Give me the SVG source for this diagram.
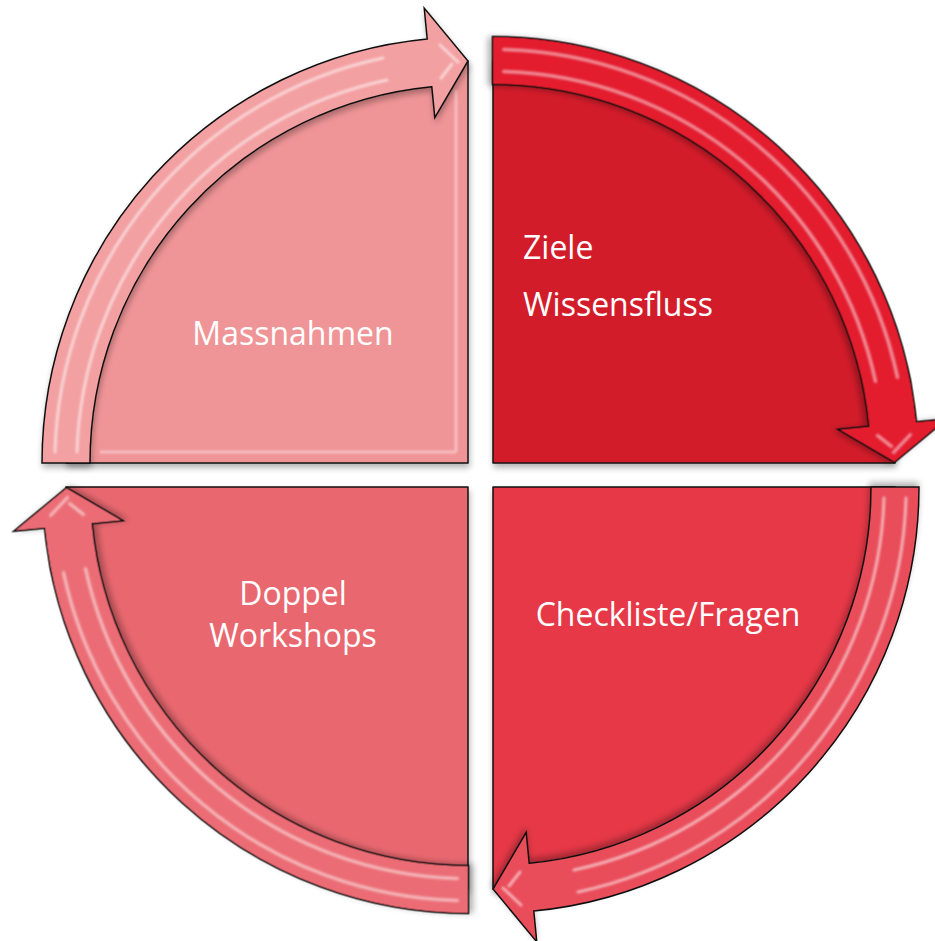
<svg xmlns="http://www.w3.org/2000/svg" xmlns:xlink="http://www.w3.org/1999/xlink" width="935" height="941" viewBox="0 0 935 941">
  <style>
    .pie { stroke: #111; stroke-width: 1.5; stroke-linejoin: round; }
    .arw { stroke: #111; stroke-width: 1.5; stroke-linejoin: miter; }
    .hl { fill: none; stroke: #ffffff; stroke-width: 3; stroke-opacity: 0.55; stroke-linecap: round; }
    .bev { fill: none; stroke: #ffffff; stroke-width: 2.5; stroke-opacity: 0.45; }
    .lbl { font-family: "Open Sans", "Noto Sans", "Liberation Sans", sans-serif; font-size: 32px; fill: #ffffff; }
  </style>
  <defs>
    <filter id="shadow" x="-10%" y="-10%" width="120%" height="120%">
      <feGaussianBlur in="SourceAlpha" stdDeviation="3"/>
      <feOffset dx="1" dy="4" result="b"/>
      <feComponentTransfer><feFuncA type="linear" slope="0.3"/></feComponentTransfer>
      <feMerge><feMergeNode/><feMergeNode in="SourceGraphic"/></feMerge>
    </filter>
    <filter id="soft" x="-5%" y="-5%" width="110%" height="110%">
      <feGaussianBlur stdDeviation="1"/>
    </filter>
    <g id="arrowShape">
      <path class="arw" d="M42,463 A426,426 0 0 1 427.2,39 L424.2,8.1 L468,61 L434.8,117.6 L431.8,86.7 A378,378 0 0 0 90,463 Z"/>
      <g filter="url(#soft)">
        <path class="hl" d="M55,452 A414,414 0 0 1 383,58"/>
        <path class="hl" d="M77,452 A392,392 0 0 1 387,80"/>
        <path class="hl" d="M440,45 L458,62" stroke-width="4"/>
        <path class="hl" d="M441,78 L452,64" stroke-width="3"/>
      </g>
    </g>
  </defs>

  <g id="node-massnahmen">
    <path class="pie" filter="url(#shadow)" fill="#F09597" d="M468,463 H66 A402,402 0 0 1 468,61 Z"/>
    <path class="bev" filter="url(#soft)" d="M456,90 V452 M100,452 H456" stroke-opacity="0.35"/>
    <path class="bev" filter="url(#soft)" d="M457,95 V450"/>
    <text class="lbl" x="293" y="345" text-anchor="middle">Massnahmen</text>
  </g>

  <g id="node-ziele">
    <path class="pie" filter="url(#shadow)" fill="#D31A2A" d="M493,463 V61 A402,402 0 0 1 895,463 Z"/>
    <path class="bev" filter="url(#soft)" d="M504,95 V452"/>
    <path class="bev" filter="url(#soft)" d="M504,452 H860" stroke-opacity="0.2"/>
    <text class="lbl" x="523" y="259">Ziele</text>
    <text class="lbl" x="523" y="316">Wissensfluss</text>
  </g>

  <g id="node-checkliste">
    <path class="pie" filter="url(#shadow)" fill="#E63746" d="M493,487 H895 A402,402 0 0 1 493,889 Z"/>
    <path class="bev" filter="url(#soft)" d="M504,500 V860"/>
    <path class="bev" filter="url(#soft)" d="M504,498 H870" stroke-opacity="0.25"/>
    <text class="lbl" x="668" y="626" text-anchor="middle">Checkliste/Fragen</text>
  </g>

  <g id="node-doppel">
    <path class="pie" filter="url(#shadow)" fill="#E9676F" d="M468,487 V889 A402,402 0 0 1 66,487 Z"/>
    <path class="bev" filter="url(#soft)" d="M456,500 V860"/>
    <path class="bev" filter="url(#soft)" d="M100,498 H456" stroke-opacity="0.25"/>
    <text class="lbl" x="293" y="605" text-anchor="middle">Doppel</text>
    <text class="lbl" x="293" y="647" text-anchor="middle">Workshops</text>
  </g>

  <g id="connectors">
    <use xlink:href="#arrowShape" href="#arrowShape" fill="#F3A0A2" filter="url(#shadow)"/>
    <use xlink:href="#arrowShape" href="#arrowShape" fill="#E31C2F" filter="url(#shadow)" transform="rotate(90 480.5 475)"/>
    <use xlink:href="#arrowShape" href="#arrowShape" fill="#E94D5A" filter="url(#shadow)" transform="rotate(180 480.5 475)"/>
    <use xlink:href="#arrowShape" href="#arrowShape" fill="#EB6C74" filter="url(#shadow)" transform="rotate(270 480.5 475)"/>
  </g>
</svg>
